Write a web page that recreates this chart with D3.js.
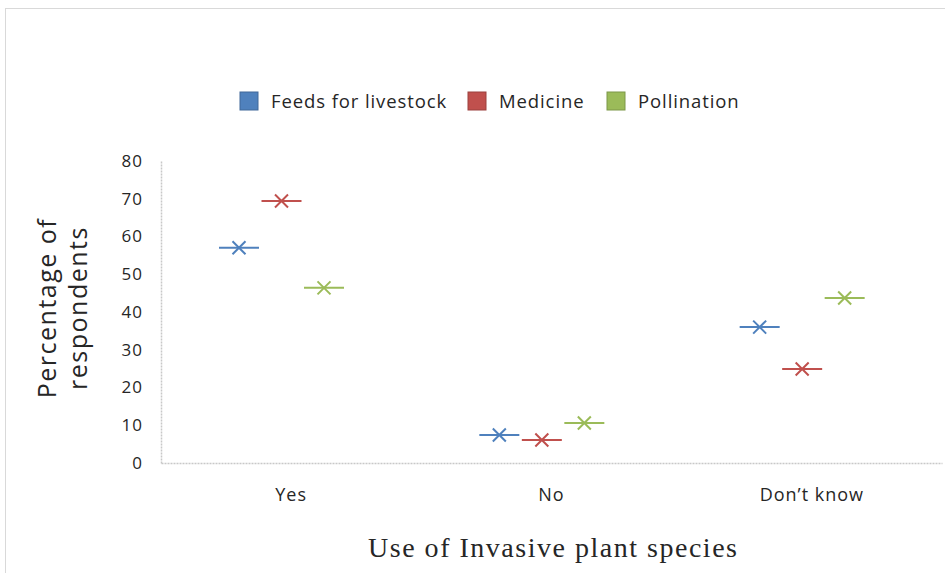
<!DOCTYPE html>
<html>
<head>
<meta charset="utf-8">
<script src="https://cdn.jsdelivr.net/npm/d3@7"></script>
<style>
  body { margin: 0; background: #fff; }
  text { fill: #262626; }
</style>
</head>
<body>
<svg id="chart" width="945" height="573"></svg>
<script>
const categories = ['Yes', 'No', 'Don\u2019t know']
const seriesNames = ['Feeds for livestock', 'Medicine', 'Pollination']
const seriesColors = ['#4f81bd', '#c0504d', '#9bbb59']
const feeds = [57, 7.4, 36]
const medicine = [69.4, 6.1, 24.9]
const pollination = [46.4, 10.6, 43.7]
const yTicks = [0, 10, 20, 30, 40, 50, 60, 70, 80]

const values = [feeds, medicine, pollination]
const sansFont = '"Open Sans", sans-serif'

const plotLeft = 161, plotRight = 942, plotTop = 161, plotBottom = 463
const dashLen = 40
const armLen = 6.5

let svg = d3.select('#chart')

// outer frame
svg.append('rect')
    .attr('x', 5.5).attr('y', 8.5)
    .attr('width', 945).attr('height', 580)
    .style('fill', 'none')
    .style('stroke', '#d9d9d9');

let x = d3.scaleBand().domain(categories).range([plotLeft, plotRight])
let inner = d3.scalePoint().domain(seriesNames).range([78, 163])
let y = d3.scaleLinear().domain([0, 80]).range([plotBottom, plotTop])

// axes
let yAxis = svg.append('g')
    .attr('transform', `translate(${plotLeft},0)`)
    .call(d3.axisLeft(y).tickValues(yTicks).tickSize(0).tickPadding(18))
let xAxis = svg.append('g')
    .attr('transform', `translate(0,${plotBottom})`)
    .call(d3.axisBottom(x).tickSize(0).tickPadding(25))
for (let ax of [yAxis, xAxis]) {
    ax.select('.domain')
        .style('stroke', '#c8c8c8')
        .style('stroke-width', 1.5)
        .style('stroke-dasharray', '2,1');
    ax.selectAll('text')
        .style('font-family', sansFont)
        .style('fill', '#262626');
}
yAxis.selectAll('text')
    .style('font-size', '17px')
    .style('letter-spacing', '1px')
xAxis.selectAll('text')
    .style('font-size', '18px')
    .style('letter-spacing', '1px')

// points
let pts = []
values.forEach((vals, s) => vals.forEach((v, c) => pts.push({s: s, c: c, v: v})))
let marks = svg.selectAll('.pt')
    .data(pts)
    .enter()
    .append('g')
    .attr('class', 'pt')
    .attr('transform', d => `translate(${x(categories[d.c]) + inner(seriesNames[d.s])},${y(d.v)})`)
    .style('stroke', d => seriesColors[d.s])
    .style('stroke-width', 2)
marks.append('line')
    .attr('x1', -dashLen/2).attr('x2', dashLen/2)
marks.append('path')
    .attr('d', `M${-armLen},${-armLen}L${armLen},${armLen}M${-armLen},${armLen}L${armLen},${-armLen}`)
    .style('stroke-width', 2)

// legend
let legendX = [240, 468, 607]
let legend = svg.selectAll('.leg')
    .data(seriesNames)
    .enter()
    .append('g')
    .attr('class', 'leg')
    .attr('transform', (_, i) => `translate(${legendX[i]},92)`)
legend.append('rect')
    .attr('width', 18).attr('height', 18)
    .style('fill', (_, i) => seriesColors[i])
    .style('stroke', (_, i) => d3.color(seriesColors[i]).darker(0.6))
legend.append('text')
    .attr('x', 31).attr('y', 16)
    .style('font-family', sansFont)
    .style('font-size', '18.5px')
    .style('letter-spacing', '0.9px')
    .text(d => d)

// axis titles
for (let [line, xPos] of [['Percentage of', 56], ['respondents', 87]]) {
    svg.append('text')
        .attr('transform', `translate(${xPos},308) rotate(-90)`)
        .attr('text-anchor', 'middle')
        .style('font-family', sansFont)
        .style('font-size', '25px')
        .style('letter-spacing', '1.5px')
        .text(line)
}
svg.append('text')
    .attr('x', 368).attr('y', 557)
    .attr('textLength', 369)
    .attr('lengthAdjust', 'spacing')
    .style('font-family', '"Liberation Serif", serif')
    .style('font-size', '28px')
    .text('Use of Invasive plant species')
</script>
</body>
</html>
